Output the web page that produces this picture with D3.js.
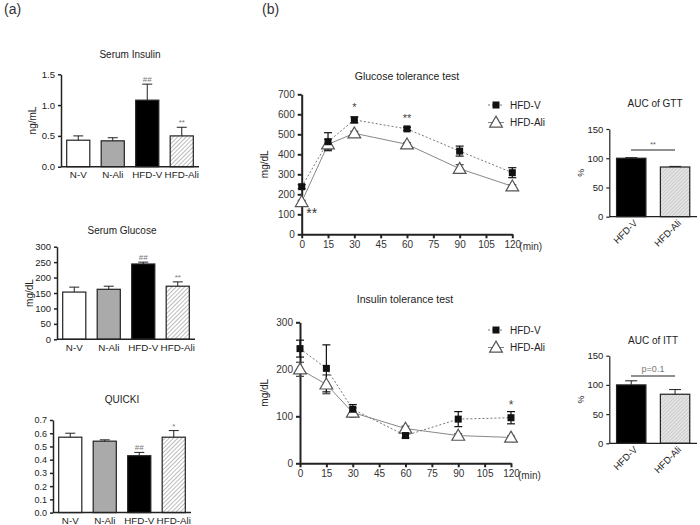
<!DOCTYPE html>
<html><head><meta charset="utf-8">
<script src="https://cdn.jsdelivr.net/npm/d3@7"></script>
<style>body{margin:0;background:#fff}svg{font-family:"Liberation Sans",Arial,sans-serif}</style>
</head><body>
<svg id="c" width="700" height="525"></svg>
<script>
// ---------- DATA ----------
const groups = ["N-V","N-Ali","HFD-V","HFD-Ali"];
const insulinMean = [0.43,0.42,1.08,0.50];
const insulinErr  = [0.07,0.05,0.26,0.14];
const insulinMarks = ["","","##","**"];
const insulinTicks = [0.0,0.5,1.0,1.5];
const glucoseMean = [153,162,244,172];
const glucoseErr  = [16,10,6,14];
const glucoseMarks = ["","","##","**"];
const glucoseTicks = [0,50,100,150,200,250,300];
const quickiMean = [0.57,0.54,0.43,0.57];
const quickiErr  = [0.03,0.01,0.025,0.05];
const quickiMarks = ["","","##","*"];
const quickiTicks = [0,0.1,0.2,0.3,0.4,0.5,0.6,0.7];

const timePoints = [0,15,30,60,90,120];
const timeTicks = [0,15,30,45,60,75,90,105,120];
const gttV   = [238,463,572,527,416,308];
const gttVErr= [10,45,15,8,25,25];
const gttA   = [162,450,505,450,328,240];
const gttAErr= [8,25,10,8,20,8];
const gttTicks = [0,100,200,300,400,500,600,700];
const ittV   = [244,202,115,59,94,97];
const ittVErr= [18,50,10,5,16,13];
const ittA   = [200,168,108,74,59,55];
const ittAErr= [15,20,10,5,4,3];
const ittTicks = [0,100,200,300];

const aucGroups = ["HFD-V","HFD-Ali"];
const aucGttMean = [100,85];
const aucGttErr  = [1,1];
const aucIttMean = [100,84];
const aucIttErr  = [7,8];
const aucTicks = [0,50,100,150];

// ---------- DRAWING ----------
const svg = d3.select("#c");
const defs = svg.append("defs");
const hp = defs.append("pattern").attr("id","hatch").attr("patternUnits","userSpaceOnUse")
  .attr("width",3).attr("height",3).attr("patternTransform","rotate(45)");
hp.append("rect").attr("width",3).attr("height",3).attr("fill","#fff");
hp.append("line").attr("x1",0).attr("y1",0).attr("x2",0).attr("y2",3).attr("stroke","#777").attr("stroke-width",1);
const hp2 = defs.append("pattern").attr("id","hatch2").attr("patternUnits","userSpaceOnUse")
  .attr("width",2.5).attr("height",2.5).attr("patternTransform","rotate(45)");
hp2.append("rect").attr("width",2.5).attr("height",2.5).attr("fill","#e4e4e4");
hp2.append("line").attr("x1",0).attr("y1",0).attr("x2",0).attr("y2",2.5).attr("stroke","#aaa").attr("stroke-width",0.8);

svg.append("text").attr("x",4).attr("y",14).attr("font-size",14).attr("fill","#333").text("(a)");
svg.append("text").attr("x",262).attr("y",14).attr("font-size",14).attr("fill","#333").text("(b)");

const fills4 = ["#fff","#aaa","#000","url(#hatch)"];

function styleAxis(g, sw){
  g.selectAll(".domain").attr("stroke","#222").attr("stroke-width",sw||1.5);
  g.selectAll(".tick line").attr("stroke","#222").attr("stroke-width",sw||1.5);
}

function barPanel(o){
  const g = svg.append("g");
  const y = d3.scaleLinear().domain(o.domain).range([o.y0,o.y1]);
  const x = d3.scaleBand().domain(o.cats).range([o.x0,o.x1]).paddingInner(0.33).paddingOuter(0.165);
  g.selectAll("rect.bar").data(o.mean).join("rect")
    .attr("x",(d,i)=>x(o.cats[i])).attr("width",x.bandwidth())
    .attr("y",d=>y(d)).attr("height",d=>y(0)-y(d))
    .attr("fill",(d,i)=>o.fills[i]).attr("stroke","#222").attr("stroke-width",1.2);
  o.mean.forEach((m,i)=>{
    const cx = x(o.cats[i])+x.bandwidth()/2;
    g.append("line").attr("x1",cx).attr("x2",cx).attr("y1",y(m)).attr("y2",y(m+o.err[i])).attr("stroke","#222").attr("stroke-width",1);
    g.append("line").attr("x1",cx-o.cap).attr("x2",cx+o.cap).attr("y1",y(m+o.err[i])).attr("y2",y(m+o.err[i])).attr("stroke","#222").attr("stroke-width",1);
    if(o.marks && o.marks[i]){
      g.append("text").attr("x",cx).attr("y",y(m+o.err[i])-2).attr("text-anchor","middle")
        .attr("font-size",o.markSize||8).attr("fill","#777").text(o.marks[i]);
    }
  });
  const ya = g.append("g").attr("transform",`translate(${o.x0},0)`)
    .call(d3.axisLeft(y).tickValues(o.ticks).tickSize(3).tickSizeOuter(0).tickFormat(o.fmt));
  ya.selectAll("text").attr("font-size",o.yTickFs||o.tickFs).attr("fill","#222").attr("font-family","Liberation Sans");
  styleAxis(ya, o.sw);
  const xa = g.append("g").attr("transform",`translate(0,${o.y0})`)
    .call(d3.axisBottom(x).tickSize(0).tickSizeOuter(0));
  xa.select(".domain").attr("d",`M${o.x0},0H${o.x1}`);
  styleAxis(xa, o.sw);
  if(o.rotate){
    xa.selectAll("text").attr("text-anchor","end").attr("dy",0)
      .attr("transform",d=>`translate(${x.bandwidth()/2-8},7) rotate(-45)`).attr("x",0).attr("y",0)
      .attr("font-size",o.tickFs).attr("fill","#222").attr("font-family","Liberation Sans");
  } else {
    xa.selectAll("text").attr("font-size",o.tickFs).attr("fill","#222").attr("dy","0.85em").attr("font-family","Liberation Sans");
  }
  g.append("text").attr("x",o.titleX).attr("y",o.titleY).attr("text-anchor","middle")
    .attr("font-size",o.titleFs||10).attr("fill","#222").text(o.title);
  if(o.ylabel){
    g.append("text").attr("transform",`translate(${o.ylabelX},${(o.y0+o.y1)/2}) rotate(-90)`)
      .attr("text-anchor","middle").attr("font-size",o.ylabelFs||10).attr("fill","#222").text(o.ylabel);
  }
  return {g,x,y};
}

barPanel({x0:61,x1:199,y0:166.7,y1:74.3,domain:[0,1.5],ticks:insulinTicks,fmt:d3.format(".1f"),
  cats:groups,mean:insulinMean,err:insulinErr,fills:fills4,marks:insulinMarks,cap:5,
  tickFs:9.8,yTickFs:9.5,title:"Serum Insulin",titleX:130,titleY:58,titleFs:10,ylabel:"ng/mL",ylabelX:36});
barPanel({x0:57,x1:195,y0:339.3,y1:246.7,domain:[0,300],ticks:glucoseTicks,fmt:d3.format("d"),
  cats:groups,mean:glucoseMean,err:glucoseErr,fills:fills4,marks:glucoseMarks,cap:5,
  tickFs:9.8,yTickFs:9.5,title:"Serum Glucose",titleX:122,titleY:234,titleFs:10,ylabel:"mg/dL",ylabelX:33});
barPanel({x0:53,x1:191,y0:512.6,y1:420,domain:[0,0.7],ticks:quickiTicks,fmt:d3.format(".1f"),
  cats:groups,mean:quickiMean,err:quickiErr,fills:fills4,marks:quickiMarks,cap:5,
  tickFs:9.8,yTickFs:9,title:"QUICKI",titleX:122,titleY:403,titleFs:10});

const aucG = barPanel({x0:609.3,x1:697,y0:216.7,y1:129,domain:[0,150],ticks:aucTicks,fmt:d3.format("d"),
  cats:aucGroups,mean:aucGttMean,err:aucGttErr,fills:["#000","url(#hatch2)"],cap:6,sw:1.2,
  tickFs:9.5,rotate:true,title:"AUC of GTT",titleX:655,titleY:107,ylabel:"%",ylabelX:584,ylabelFs:9});
aucG.g.append("line").attr("x1",631).attr("x2",675).attr("y1",150).attr("y2",150).attr("stroke","#222").attr("stroke-width",1.2);
aucG.g.append("text").attr("x",653).attr("y",147).attr("text-anchor","middle").attr("font-size",7).attr("fill","#555").text("**");

const aucI = barPanel({x0:609.3,x1:697,y0:443.3,y1:355.7,domain:[0,150],ticks:aucTicks,fmt:d3.format("d"),
  cats:aucGroups,mean:aucIttMean,err:aucIttErr,fills:["#000","url(#hatch2)"],cap:6,sw:1.2,
  tickFs:9.5,rotate:true,title:"AUC of ITT",titleX:653,titleY:344,ylabel:"%",ylabelX:584,ylabelFs:9});
aucI.g.append("line").attr("x1",631).attr("x2",675).attr("y1",376).attr("y2",376).attr("stroke","#222").attr("stroke-width",1.2);
aucI.g.append("text").attr("x",653).attr("y",372).attr("text-anchor","middle").attr("font-size",9).attr("fill","#777").text("p=0.1");

function linePanel(o){
  const g = svg.append("g");
  const x = d3.scaleLinear().domain([0,120]).range([o.x0,o.x1]);
  const y = d3.scaleLinear().domain(o.domain).range([o.y0,o.y1]);
  const ya = g.append("g").attr("transform",`translate(${o.x0},0)`)
    .call(d3.axisLeft(y).tickValues(o.ticks).tickSize(4).tickSizeOuter(0));
  ya.selectAll("text").attr("font-size",10).attr("fill","#333").attr("font-family","Liberation Sans");
  styleAxis(ya,2);
  const xa = g.append("g").attr("transform",`translate(0,${o.y0})`)
    .call(d3.axisBottom(x).tickValues(timeTicks).tickSize(4).tickSizeOuter(0));
  xa.selectAll("text").attr("font-size",10).attr("fill","#333").attr("font-family","Liberation Sans");
  styleAxis(xa,2);
  g.append("text").attr("x",o.x1+7).attr("y",o.y0+15.5).attr("font-size",10).attr("fill","#333").text("(min)");
  g.append("text").attr("x",o.titleX).attr("y",o.titleY).attr("text-anchor","middle").attr("font-size",10.5).attr("fill","#222").text(o.title);
  g.append("text").attr("transform",`translate(${o.ylabelX},${(o.y0+o.y1)/2}) rotate(-90)`)
    .attr("text-anchor","middle").attr("font-size",10).attr("fill","#222").text("mg/dL");
  const line = d3.line().x((d,i)=>x(timePoints[i])).y(d=>y(d));
  g.append("path").attr("d",line(o.a)).attr("fill","none").attr("stroke","#888").attr("stroke-width",1);
  g.append("path").attr("d",line(o.v)).attr("fill","none").attr("stroke","#777").attr("stroke-width",1).attr("stroke-dasharray","2,2");
  function errs(vals,err,col){
    vals.forEach((v,i)=>{
      const cx=x(timePoints[i]);
      g.append("line").attr("x1",cx).attr("x2",cx).attr("y1",y(v-err[i])).attr("y2",y(v+err[i])).attr("stroke",col).attr("stroke-width",1.2);
      [v-err[i],v+err[i]].forEach(e=>g.append("line").attr("x1",cx-4).attr("x2",cx+4).attr("y1",y(e)).attr("y2",y(e)).attr("stroke",col).attr("stroke-width",1.2));
    });
  }
  errs(o.a,o.aErr,"#444");
  errs(o.v,o.vErr,"#111");
  const tri = d3.symbol().type(d3.symbolTriangle).size(70);
  g.selectAll("path.tri").data(o.a).join("path").attr("class","tri")
    .attr("d",tri).attr("transform",(d,i)=>`translate(${x(timePoints[i])},${y(d)+1})`)
    .attr("fill","#fff").attr("stroke","#555").attr("stroke-width",1.2);
  g.selectAll("rect.sq").data(o.v).join("rect").attr("class","sq")
    .attr("x",(d,i)=>x(timePoints[i])-3.5).attr("y",d=>y(d)-3.5).attr("width",7).attr("height",7).attr("fill","#111");
  const lx=o.legX, ly=o.legY;
  g.append("line").attr("x1",lx-8).attr("x2",lx+8).attr("y1",ly).attr("y2",ly).attr("stroke","#777").attr("stroke-dasharray","2,2");
  g.append("rect").attr("x",lx-3.5).attr("y",ly-3.5).attr("width",7).attr("height",7).attr("fill","#111");
  g.append("text").attr("x",lx+14).attr("y",ly+3.5).attr("font-size",10).attr("fill","#222").text("HFD-V");
  g.append("line").attr("x1",lx-8).attr("x2",lx+8).attr("y1",ly+17.5).attr("y2",ly+17.5).attr("stroke","#888");
  g.append("path").attr("d",tri).attr("transform",`translate(${lx},${ly+18.5})`).attr("fill","#fff").attr("stroke","#555").attr("stroke-width",1.2);
  g.append("text").attr("x",lx+14).attr("y",ly+21).attr("font-size",10).attr("fill","#222").text("HFD-Ali");
  return {g,x,y};
}

const gtt = linePanel({x0:301.7,x1:512.3,y0:234.3,y1:94.3,domain:[0,700],ticks:gttTicks,v:gttV,vErr:gttVErr,a:gttA,aErr:gttAErr,
  title:"Glucose tolerance test",titleX:407,titleY:80,ylabelX:268,legX:496,legY:105});
gtt.g.append("text").attr("x",gtt.x(30)).attr("y",gtt.y(572+15)-6).attr("text-anchor","middle").attr("font-size",11).attr("fill","#444").text("*");
gtt.g.append("text").attr("x",gtt.x(60)).attr("y",gtt.y(527+8)-5).attr("text-anchor","middle").attr("font-size",11).attr("fill","#444").text("**");
gtt.g.append("text").attr("x",gtt.x(0)+10).attr("y",gtt.y(162)+16).attr("text-anchor","middle").attr("font-size",14).attr("fill","#333").text("**");

const itt = linePanel({x0:300,x1:511,y0:463.3,y1:322.3,domain:[0,300],ticks:ittTicks,v:ittV,vErr:ittVErr,a:ittA,aErr:ittAErr,
  title:"Insulin tolerance test",titleX:405,titleY:303,ylabelX:268,legX:496,legY:330});
itt.g.append("text").attr("x",itt.x(120)).attr("y",itt.y(97+13)-3).attr("text-anchor","middle").attr("font-size",12).attr("fill","#444").text("*");
</script>
</body></html>
